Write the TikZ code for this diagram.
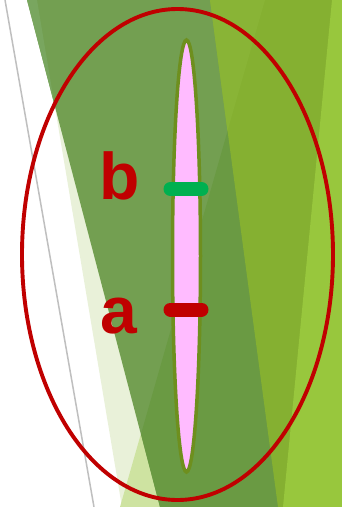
\documentclass[tikz,border=0pt]{standalone}
\usepackage{fontspec}
\setmainfont{Liberation Sans}
\definecolor{paleg}{RGB}{233,241,217}
\definecolor{qpale}{RGB}{206,227,161}
\definecolor{gmain}{RGB}{115,159,81}
\definecolor{glight}{RGB}{121,166,95}
\definecolor{gdark}{RGB}{106,154,67}
\definecolor{ygreen}{RGB}{133,176,49}
\definecolor{ylight}{RGB}{137,180,54}
\definecolor{bgreen}{RGB}{152,199,61}
\definecolor{linegray}{RGB}{191,191,191}
\definecolor{darkred}{RGB}{192,0,0}
\definecolor{barred}{RGB}{192,0,0}
\definecolor{bargreen}{RGB}{0,176,80}
\definecolor{spindle}{RGB}{255,187,255}
\definecolor{spedge}{RGB}{110,143,30}
\tikzset{
  facet/.style={draw=none},
  bar/.style={line width=14pt, line cap=round},
  letter/.style={anchor=base west, inner sep=0pt, text=darkred,
    font=\bfseries\fontsize{66}{66}\selectfont}
}
\begin{document}
\begin{tikzpicture}[x=1pt,y=-1pt]
\useasboundingbox (0,0) rectangle (342,507);
\begin{scope}
\clip (0,0) rectangle (342,507);
\fill[white] (0,0) rectangle (342,507);
% background facets
\fill[paleg] (37,0) -- (122,507) -- (342,507) -- (342,0) -- cycle;
\fill[qpale] (265,0) -- (120,507) -- (342,507) -- (342,0) -- cycle;
\fill[gmain] (27,0) -- (160,507) -- (342,507) -- (342,0) -- cycle;
\fill[glight] (27,0) -- (37,0) -- (54.7,105.7) -- cycle;
\fill[gdark] (265,0) -- (141,434) -- (160,507) -- (342,507) -- (342,0) -- cycle;
\fill[ygreen] (210,0) -- (278,507) -- (342,507) -- (342,0) -- cycle;
\fill[ylight] (210,0) -- (265,0) -- (227.5,131) -- cycle;
\fill[bgreen] (332,0) -- (283,507) -- (342,507) -- (342,0) -- cycle;
\draw[linegray, line width=1.5pt] (5,0) -- (94,507);
\end{scope}
% big red ellipse
\draw[darkred, line width=3.9pt] (177.5,254.5) ellipse [x radius=155.5pt, y radius=245.5pt];
% spindle
\draw[spedge, fill=spindle, line width=3.5pt] (186.5,256) ellipse [x radius=14pt, y radius=216pt];
% bars
\coordinate (b1) at (170.5,189);
\coordinate (b2) at (201.5,189);
\coordinate (a1) at (170.5,309.5);
\coordinate (a2) at (201.5,309.5);
\draw[bar, bargreen] (b1) -- (b2);
\draw[bar, barred] (a1) -- (a2);
% labels
\node[letter] (lb) at (99.5,199) {b};
\node[letter] (la) at (100,333) {a};
\end{tikzpicture}
\end{document}
